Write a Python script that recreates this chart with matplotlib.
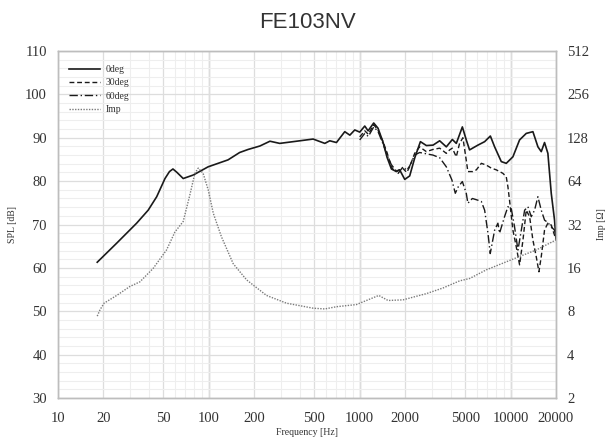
import numpy as np
import matplotlib
matplotlib.use("Agg")
import matplotlib.pyplot as plt
from matplotlib.ticker import FixedLocator, NullFormatter

# on-axis response
f0 = [18.2, 24.5, 33.2, 39.6, 45.1, 51.2, 54.8, 57.8, 61.5, 67.6, 78.7, 98.9, 134, 160, 182, 218, 254, 295,
      401, 491, 587, 633, 701, 796, 860, 927, 1000, 1080, 1136, 1238, 1322, 1427, 1517, 1622,
      1750, 1840, 1988, 2144, 2313, 2525, 2767, 3062, 3388, 3750, 4111, 4368, 4790, 5085, 5346,
      6074, 6730, 7344, 7838, 8677, 9361, 10358, 11470, 12700, 14060, 15180, 15970, 16790,
      17670, 18600, 19560, 20000]
spl0 = [61.3, 65.7, 70.3, 73.3, 76.4, 80.6, 82.2, 82.8, 82.0, 80.6, 81.4, 83.3, 84.9, 86.6, 87.3, 88.1, 89.2, 88.7,
        89.3, 89.7, 88.7, 89.3, 88.9, 91.4, 90.6, 91.8, 91.3, 92.7, 91.6, 93.4, 92.2, 89.0, 85.5, 82.8,
        82.2, 82.6, 80.4, 81.2, 85.3, 89.1, 88.2, 88.3, 89.3, 87.9, 89.6, 88.7, 92.5, 89.5, 87.2,
        88.3, 89.1, 90.4, 87.9, 84.5, 84.1, 85.6, 89.5, 91.0, 91.4, 87.9, 86.8, 88.9,
        86.4, 77.2, 71.0, 66.5]

# 30 deg off-axis
f30 = [1000, 1080, 1140, 1238, 1320, 1430, 1520, 1620, 1706, 1800, 1936, 2050, 2144, 2313, 2495,
       2763, 3060, 3388, 3750, 3945, 4110, 4365, 4590, 4830, 5080, 5210, 5620, 5930, 6400, 6900,
       7450, 8040, 8890, 9360, 9600, 9840, 10360, 10900, 11470, 12080, 12700, 13370, 14060, 14790,
       15410, 15970, 16790, 17650, 18580, 20000]
spl30 = [90.2, 91.6, 90.8, 93.0, 91.8, 89.0, 86.5, 83.3, 82.2, 82.5, 82.9, 82.0, 83.3, 86.4, 87.9,
         86.8, 87.3, 87.6, 86.4, 87.2, 87.6, 85.6, 88.7, 90.0, 84.9, 82.2, 82.2, 82.6, 84.1, 83.7,
         83.0, 82.6, 81.8, 81.0, 78.7, 75.6, 68.7, 64.9, 60.7, 66.4, 73.3, 71.8, 66.4, 62.6,
         59.1, 62.6, 68.7, 70.3, 69.9, 66.5]

# 60 deg off-axis
f60 = [1000, 1080, 1140, 1238, 1320, 1430, 1520, 1620, 1706, 1800, 1936, 2050, 2144, 2313, 2495,
       2763, 3060, 3388, 3750, 4080, 4300, 4500, 4790, 5085, 5210, 5580, 6074, 6400, 6730, 7080,
       7330, 7840, 8240, 8450, 9120, 9600, 10100, 10620, 11190, 11780, 12390, 13030, 13710, 14420,
       15170, 15970, 16800, 17600, 18580, 19540, 20000]
spl60 = [89.5, 91.0, 90.3, 92.5, 91.5, 88.5, 86.0, 83.8, 82.8, 81.8, 83.3, 82.5, 83.5, 86.0, 86.6,
         86.3, 86.0, 85.4, 83.3, 80.3, 77.2, 78.7, 79.9, 77.2, 74.9, 76.0, 75.6, 75.3, 73.3, 68.0,
         63.3, 68.7, 70.3, 68.0, 71.8, 74.1, 73.7, 69.5, 64.1, 68.7, 73.3, 74.1, 71.8, 73.3,
         76.4, 73.3, 71.0, 70.5, 69.5, 68.7, 67.5]

# impedance
fz = [18.2, 19.0, 20.2, 24.5, 30.0, 34.9, 42.8, 52.4, 59.6, 67.6, 74.8, 80.8, 85.0, 91.6, 99.0,
      107, 121, 145, 178, 241, 327, 400, 491, 587, 700, 950, 1107, 1337, 1541, 1937, 2763, 3563,
      4593, 5350, 6900, 11470, 14800, 20000]
zimp = [7.4, 8.2, 9.1, 10.3, 11.9, 12.8, 15.9, 21.3, 28.4, 33.6, 51.3, 72.5, 78.8, 72.5, 55.7,
        38.3, 26.4, 17.1, 13.2, 10.3, 9.1, 8.75, 8.4, 8.3, 8.6, 8.9, 9.5, 10.3, 9.5, 9.6, 10.6, 11.6,
        13.0, 13.5, 15.5, 19.2, 21.3, 25.0]

xticks = [10, 20, 50, 100, 200, 500, 1000, 2000, 5000, 10000, 20000]
zticks = [2, 4, 8, 16, 32, 64, 128, 256, 512]

tc = '#333333'
serif = 'Liberation Serif'

fig = plt.figure(figsize=(6.09, 4.38), dpi=100)
ax = fig.add_axes([58/609, 1-398/438, 498/609, 347/438])
ax2 = ax.twinx()

ax.set_xscale('log')
ax.set_xlim(10, 20000)
ax.set_ylim(30, 110)
ax.xaxis.set_major_locator(FixedLocator(xticks))
ax.set_xticklabels([str(t) for t in xticks])
ax.xaxis.set_minor_locator(FixedLocator([m * 10**d for d in range(1, 5) for m in range(2, 10)
                                          if m * 10**d <= 20000]))
ax.xaxis.set_minor_formatter(NullFormatter())
ax.set_yticks(range(30, 111, 10))
ax.set_yticks(range(30, 111, 2), minor=True)

# grid: decades darker than the rest
for d in [100, 1000, 10000]:
    ax.axvline(d, color='#cfcfcf', lw=1.0, zorder=0.5)
ax.grid(True, which='major', color='#dddddd', lw=0.9, zorder=0)
ax.grid(True, which='minor', color='#eeeeee', lw=0.8, zorder=0)
ax.set_axisbelow(True)

l0, = ax.plot(f0, spl0, color='#1a1a1a', lw=1.2, ls='-', label='0deg')
l30, = ax.plot(f30, spl30, color='#1a1a1a', lw=1.0, ls=(0, (3.5, 2)), label='30deg')
l60, = ax.plot(f60, spl60, color='#1a1a1a', lw=1.0, ls=(0, (6, 2, 1, 2)), label='60deg')

ax2.set_yscale('log', base=2)
ax2.set_ylim(2, 512)
limp, = ax2.plot(fz, zimp, color='#7a7a7a', lw=1.0, ls=(0, (1, 1)), label='Imp')
ax2.set_yticks(zticks)
ax2.set_yticklabels([str(t) for t in zticks])
ax2.yaxis.set_minor_locator(FixedLocator([]))

for a in (ax, ax2):
    a.tick_params(which='both', length=0, labelsize=10.5, labelcolor=tc)
    for lab in a.get_xticklabels() + a.get_yticklabels():
        lab.set_fontfamily(serif)
    for s in a.spines.values():
        s.set_color('#bdbdbd')
        s.set_linewidth(1.0)
ax.tick_params(axis='x', pad=10)
ax.tick_params(axis='y', pad=8)
ax2.tick_params(axis='y', pad=8)

ax.set_xlabel('Frequency [Hz]', fontsize=7, family=serif, color=tc, labelpad=2)
ax.set_ylabel('SPL [dB]', fontsize=7, family=serif, color=tc, labelpad=6)
ax2.set_ylabel('Imp [Ω]', fontsize=7, family=serif, color=tc, labelpad=6)

leg = ax.legend(handles=[l0, l30, l60, limp], loc='upper left', bbox_to_anchor=(0.005, 0.985),
                frameon=False, prop={'family': serif, 'size': 7}, labelcolor=tc,
                handlelength=3.2, handletextpad=0.5, labelspacing=0.45)

fig.text(307/609, 1-22/438, 'FE103NV', ha='center', va='center', fontsize=16,
         family='Liberation Sans', color='#333333')

fig.savefig('out.png', dpi=100)
